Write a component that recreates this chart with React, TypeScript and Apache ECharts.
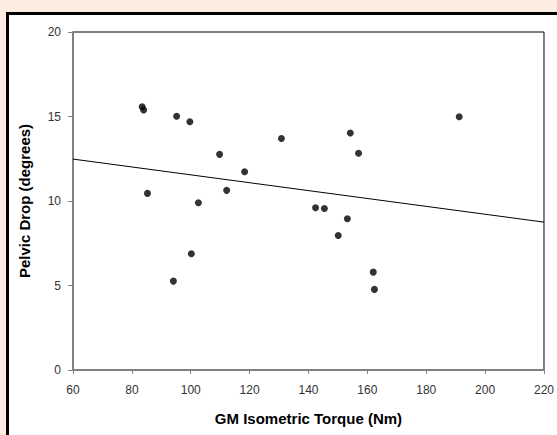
import React, { useEffect, useRef } from "react";
import * as echarts from "echarts";

const torque: number[] = [83.5, 84.0, 85.3, 95.2, 94.1, 99.7, 100.2, 102.6, 109.8, 112.2, 118.3, 130.8, 142.4, 145.4, 150.1, 153.2, 154.2, 157.0, 162.0, 162.4, 191.2];
const pelvicDrop: number[] = [15.58, 15.38, 10.45, 15.02, 5.26, 14.69, 6.88, 9.9, 12.76, 10.63, 11.73, 13.7, 9.6, 9.56, 7.96, 8.95, 14.02, 12.83, 5.79, 4.77, 14.99];
const trendX: number[] = [60, 220];
const trendY: number[] = [12.48, 8.75];
const xTicks = { min: 60, max: 220, interval: 20 };
const yTicks = { min: 0, max: 20, interval: 5 };

const FONT = "Arial, 'Liberation Sans', sans-serif";

export default function App() {
  const ref = useRef<HTMLDivElement>(null);
  useEffect(() => {
    if (!ref.current) return;
    const chart = echarts.init(ref.current, undefined, { renderer: "svg" });
    chart.setOption({
      animation: false,
      grid: {
        left: 73,
        top: 32,
        width: 475,
        height: 338,
        show: true,
        borderColor: "#000",
        borderWidth: 1,
        backgroundColor: "#fff",
      },
      xAxis: {
        type: "value",
        min: xTicks.min,
        max: xTicks.max,
        interval: xTicks.interval,
        name: "GM Isometric Torque (Nm)",
        nameLocation: "middle",
        nameGap: 41,
        nameTextStyle: { fontFamily: FONT, fontSize: 15, fontWeight: "bold", color: "#000" },
        axisLine: { show: true, lineStyle: { color: "#808080", width: 2 } },
        axisTick: { show: true, inside: false, length: 4, lineStyle: { color: "#808080", width: 1 } },
        axisLabel: { fontFamily: FONT, fontSize: 12, color: "#333", margin: 14 },
        splitLine: { show: false },
      },
      yAxis: {
        type: "value",
        min: yTicks.min,
        max: yTicks.max,
        interval: yTicks.interval,
        name: "Pelvic Drop (degrees)",
        nameLocation: "middle",
        nameGap: 41,
        nameRotate: 90,
        nameTextStyle: { fontFamily: FONT, fontSize: 15, fontWeight: "bold", color: "#000" },
        axisLine: { show: true, lineStyle: { color: "#808080", width: 2 } },
        axisTick: { show: true, inside: false, length: 5, lineStyle: { color: "#808080", width: 1 } },
        axisLabel: { fontFamily: FONT, fontSize: 12, color: "#333", margin: 12 },
        splitLine: { show: false },
      },
      series: [
        {
          type: "line",
          data: trendX.map((x, i) => [x, trendY[i]]),
          showSymbol: false,
          symbol: "none",
          lineStyle: { color: "#000", width: 1 },
          z: 2,
        },
        {
          type: "scatter",
          data: torque.map((x, i) => [x, pelvicDrop[i]]),
          symbol: "circle",
          symbolSize: 7,
          itemStyle: { color: "#000" },
          z: 3,
        },
      ],
    });
    return () => chart.dispose();
  }, []);

  return (
    <div
      style={{
        position: "fixed",
        left: 0,
        top: 0,
        width: 557,
        height: 435,
        background: "#fdece1",
        overflow: "hidden",
      }}
    >
      <div
        style={{
          position: "absolute",
          left: 6,
          top: 12,
          width: 600,
          height: 500,
          background: "#fff",
          borderTop: "3px solid #000",
          borderLeft: "3px solid #000",
        }}
      />
      <div ref={ref} style={{ position: "absolute", left: 0, top: 0, width: 557, height: 435 }} />
    </div>
  );
}
